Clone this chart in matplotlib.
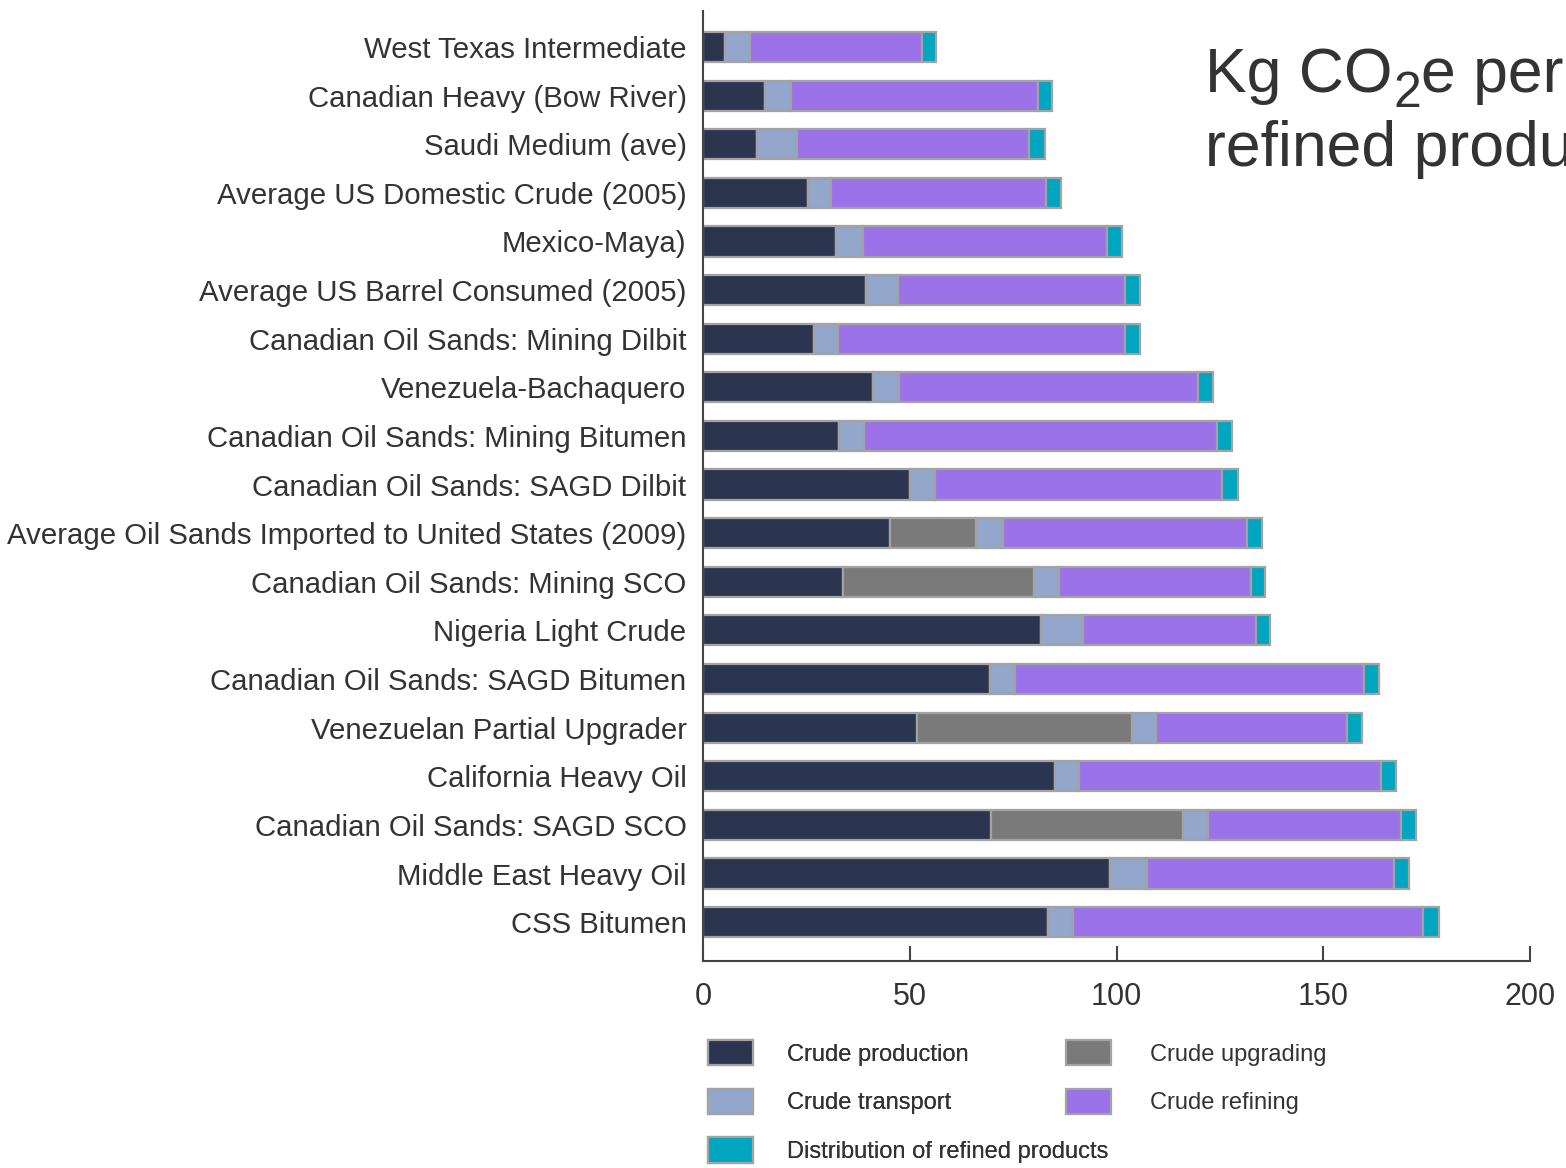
import numpy as np
import matplotlib.pyplot as plt
from matplotlib.patches import Patch

plt.rcParams['font.family'] = ['Liberation Sans', 'DejaVu Sans']

# Data (kg CO2e per barrel of refined products)
crudes = [
    "West Texas Intermediate",
    "Canadian Heavy (Bow River)",
    "Saudi Medium (ave)",
    "Average US Domestic Crude (2005)",
    "Mexico-Maya)",
    "Average US Barrel Consumed (2005)",
    "Canadian Oil Sands: Mining Dilbit",
    "Venezuela-Bachaquero",
    "Canadian Oil Sands: Mining Bitumen",
    "Canadian Oil Sands: SAGD Dilbit",
    "Average Oil Sands Imported to United States (2009)",
    "Canadian Oil Sands: Mining SCO",
    "Nigeria Light Crude",
    "Canadian Oil Sands: SAGD Bitumen",
    "Venezuelan Partial Upgrader",
    "California Heavy Oil",
    "Canadian Oil Sands: SAGD SCO",
    "Middle East Heavy Oil",
    "CSS Bitumen",
]

production = [5.3, 14.9, 13.0, 25.4, 32.2, 39.3, 26.7, 41.0, 32.9, 50.1,
              45.2, 33.9, 81.6, 69.4, 51.8, 85.2, 69.6, 98.5, 83.3]
upgrading = [0, 0, 0, 0, 0, 0, 0, 0, 0, 0,
             20.8, 46.2, 0, 0, 52.0, 0, 46.4, 0, 0]
transport = [6.1, 6.4, 9.7, 5.6, 6.4, 7.8, 5.9, 6.4, 5.9, 6.0,
             6.6, 5.9, 10.3, 6.1, 5.7, 5.8, 6.0, 8.9, 6.1]
refining = [41.4, 59.6, 56.2, 51.9, 59.0, 54.9, 69.4, 72.4, 85.4, 69.5,
            59.0, 46.4, 41.7, 84.3, 46.2, 73.0, 46.9, 59.7, 84.8]
distribution = [3.6, 3.4, 3.7, 3.6, 3.7, 3.7, 3.7, 3.6, 3.6, 3.8,
                3.6, 3.6, 3.6, 3.7, 3.6, 3.7, 3.5, 3.6, 3.8]

series = [
    ("Crude production", production, "#2B3550"),
    ("Crude upgrading", upgrading, "#7A7A7A"),
    ("Crude transport", transport, "#93A6CB"),
    ("Crude refining", refining, "#9B72E8"),
    ("Distribution of refined products", distribution, "#00A5C0"),
]
edge = "#A3A3A3"
ink = "#333333"

fig = plt.figure(figsize=(15.66, 11.68), dpi=100)
ax = fig.add_axes([0.4491, 0.1772, 0.5279, 0.8134])

y = np.arange(len(crudes))
left = np.zeros(len(crudes))
for name, vals, col in series:
    vals = np.array(vals)
    ax.barh(y, vals, left=left, height=0.62, color=col,
            edgecolor=edge, linewidth=1.6)
    left += vals

ax.set_xlim(0, 200)
ax.set_ylim(18.80, -0.74)
ax.set_yticks(y)
ax.set_yticklabels(crudes, fontsize=21.2, color=ink)
ax.set_xticks([0, 50, 100, 150, 200])
ax.tick_params(axis='y', length=0, pad=12)
ax.tick_params(axis='x', direction='in', length=11, width=1.5,
               color="#444444", labelsize=22, labelcolor=ink, pad=15)

for s in ['top', 'right']:
    ax.spines[s].set_visible(False)
for s in ['left', 'bottom']:
    ax.spines[s].set_color("#444444")
    ax.spines[s].set_linewidth(1.5)

# title block at upper right (second line runs off the edge, as in the source)
renderer = fig.canvas.get_renderer()
x0 = 1205
base1 = 1 - 92 / 1168
t1 = fig.text(x0 / 1566, base1, "Kg CO", fontsize=45, color=ink,
              va='baseline', ha='left')
w1 = t1.get_window_extent(renderer).width
t2 = fig.text((x0 + w1 + 1) / 1566, base1 - 15 / 1168, "2", fontsize=36,
              color=ink, va='baseline', ha='left')
w2 = t2.get_window_extent(renderer).width
fig.text((x0 + w1 + w2 + 1) / 1566, base1, "e per", fontsize=45, color=ink,
         va='baseline', ha='left')
fig.text(x0 / 1566, 1 - 166 / 1168, "refined products",
         fontsize=45, color=ink, va='baseline', ha='left')

# legend, two columns
def handle(i):
    return Patch(facecolor=series[i][2], edgecolor=edge, linewidth=1.6,
                 label=series[i][0])

leg_kw = dict(loc='upper left', frameon=False, fontsize=17,
              handlelength=1.9, handleheight=1.27,
              labelspacing=0.98, borderpad=0, borderaxespad=0,
              labelcolor=ink)
leg1 = fig.legend(handles=[handle(0), handle(2), handle(4)],
                  bbox_to_anchor=(708 / 1566, 1 - 1040 / 1168),
                  handletextpad=1.45, **leg_kw)
fig.legend(handles=[handle(1), handle(3)],
           bbox_to_anchor=(1066 / 1566, 1 - 1040 / 1168),
           handletextpad=1.67, **leg_kw)
fig.add_artist(leg1)

fig.savefig("out.png", dpi=100)
